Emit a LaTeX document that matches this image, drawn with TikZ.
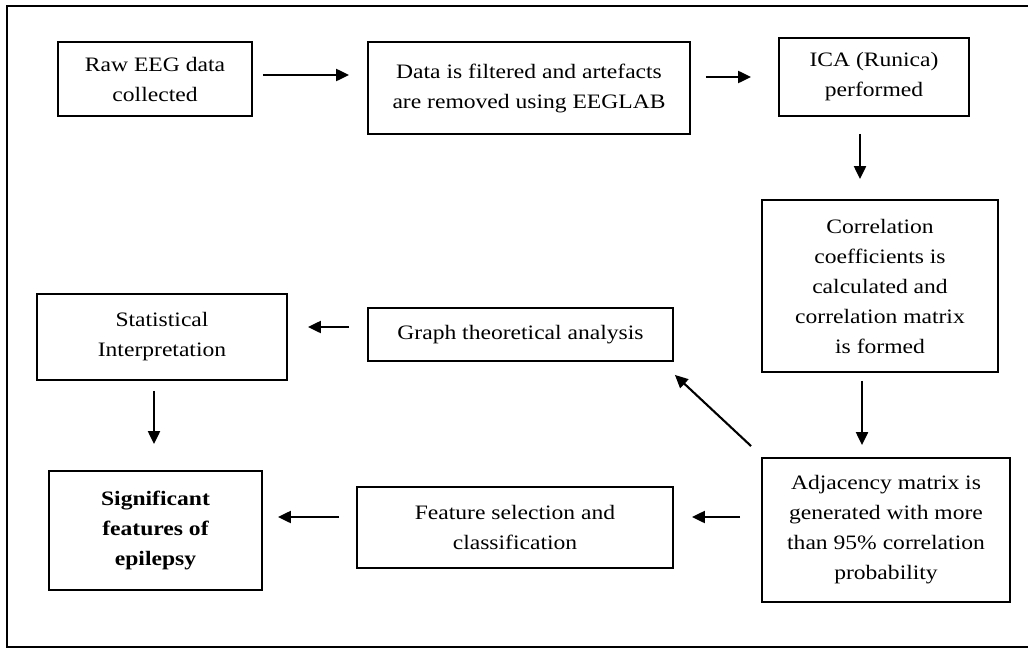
\documentclass[tikz,border=0pt]{standalone}
\usepackage{fontspec}
\setmainfont[FakeStretch=1.15]{Liberation Serif}
\usetikzlibrary{arrows.meta}
\begin{document}
\begin{tikzpicture}[x=1pt,y=-1pt,
  box/.style={draw,line width=1.8pt,align=center,inner sep=0pt,
    font=\fontsize{20.5}{30}\selectfont},
  arr/.style={line width=2.1pt,-{Triangle[length=13pt,width=12pt]}}]
\useasboundingbox (0,0) rectangle (1028,648);
\fill[white] (0,0) rectangle (1028,648);
\draw[line width=2.2pt] (1040,6) -- (7,6) -- (7,647) -- (1040,647);

\node[box,minimum width=194pt,minimum height=74pt] (raw) at (155,79) {Raw EEG data\\collected};
\node[box,minimum width=322pt,minimum height=92pt] (filt) at (529,88) {Data is filtered and artefacts\\are removed using EEGLAB};
\node[box,minimum width=190pt,minimum height=78pt] (ica) at (874,77) {ICA (Runica)\\performed};
\node[box,minimum width=236pt,minimum height=172pt] (corr) at (880,286) {Correlation\\coefficients is\\calculated and\\correlation matrix\\is formed};
\node[box,minimum width=248pt,minimum height=144pt] (adj) at (886,530) {Adjacency matrix is\\generated with more\\than 95\% correlation\\probability};
\node[box,minimum width=316pt,minimum height=81pt] (feat) at (515,527.5) {Feature selection and\\classification};
\node[box,minimum width=305pt,minimum height=53pt] (graph) at (520.5,334.5) {Graph theoretical analysis};
\node[box,minimum width=250pt,minimum height=86pt] (stat) at (162,337) {Statistical\\Interpretation};
\node[box,minimum width=213pt,minimum height=119pt,font=\fontsize{20.5}{30}\selectfont\bfseries] (sig) at (155.5,530.5) {Significant\\features of\\epilepsy};

\draw[arr,shorten <=10pt,shorten >=18pt] ([yshift=4pt]raw.east) -- ([yshift=4pt]raw.east -| filt.west);
\draw[arr,shorten <=15pt,shorten >=27pt] (ica.west -| filt.east) -- (ica.west);
\draw[arr,shorten <=17pt,shorten >=20pt] ([xshift=-14pt]ica.south) -- ([xshift=-14pt]ica.south |- corr.north);
\draw[arr,shorten <=8pt,shorten >=12pt] ([xshift=-18pt]corr.south) -- ([xshift=-18pt]corr.south |- adj.north);
\draw[arr] ([shift={(-10,-11)}]adj.north west) -- ([shift={(1,13)}]graph.south east);
\draw[arr,shorten <=18pt,shorten >=20pt] ([yshift=7.5pt]graph.west) -- ([yshift=7.5pt]graph.west -| stat.east);
\draw[arr,shorten <=10pt,shorten >=26pt] ([xshift=-8pt]stat.south) -- ([xshift=-8pt]stat.south |- sig.north);
\draw[arr,shorten <=21pt,shorten >=18pt] ([yshift=13pt]adj.west) -- ([yshift=13pt]adj.west -| feat.east);
\draw[arr,shorten <=17pt,shorten >=15pt] ([yshift=10.5pt]feat.west) -- ([yshift=10.5pt]feat.west -| sig.east);
\end{tikzpicture}
\end{document}
